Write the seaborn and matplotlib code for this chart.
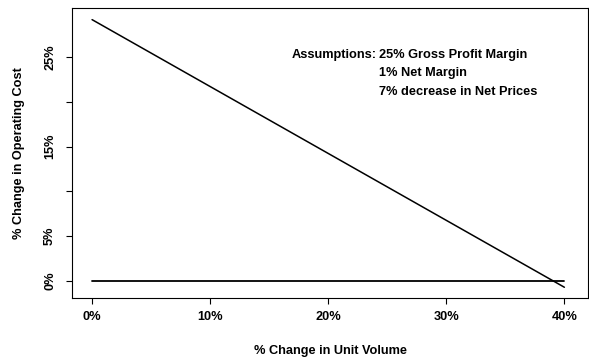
import matplotlib
matplotlib.use("Agg")
import matplotlib.pyplot as plt
import seaborn as sns
import pandas as pd

# Data
unit_volume = [0, 40]            # % change in unit volume
operating_cost = [29.2, -0.7]    # % change in operating cost
baseline_x = [0, 40]
baseline_y = [0, 0]
x_ticks = [0, 10, 20, 30, 40]
x_tick_labels = ["0%", "10%", "20%", "30%", "40%"]
y_ticks = [0, 5, 10, 15, 20, 25]
y_tick_labels = ["0%", "5%", "", "15%", "", "25%"]
notes_head = "Assumptions:"
notes = ["25% Gross Profit Margin", "1% Net Margin", "7% decrease in Net Prices"]

sns.set_style("ticks")
plt.rcParams['font.family'] = ['Liberation Sans', 'DejaVu Sans']
plt.rcParams['font.weight'] = 'bold'
plt.rcParams['text.color'] = 'black'
plt.rcParams['axes.labelcolor'] = 'black'
plt.rcParams['xtick.color'] = 'black'
plt.rcParams['ytick.color'] = 'black'

FS = 9.2
fig = plt.figure(figsize=(5.89, 3.58), dpi=100)
ax = fig.add_axes([72/589, 60/358, 516/589, 290/358])

df_line = pd.DataFrame({"x": unit_volume, "y": operating_cost})
df_base = pd.DataFrame({"x": baseline_x, "y": baseline_y})
sns.lineplot(data=df_line, x="x", y="y", ax=ax, color="black", linewidth=1.1)
sns.lineplot(data=df_base, x="x", y="y", ax=ax, color="black", linewidth=1.3)

ax.set_xlim(-1.7, 42.0)
ax.set_ylim(-1.9, 30.5)
ax.set_xticks(x_ticks)
ax.set_xticklabels(x_tick_labels, fontsize=FS, fontweight='bold')
ax.set_yticks(y_ticks)
ax.set_yticklabels(y_tick_labels, fontsize=FS, fontweight='bold', rotation=90, va='center')
ax.tick_params(axis='both', direction='out', length=4, width=0.8, color='black', labelcolor='black')
ax.tick_params(axis='x', pad=5)
ax.tick_params(axis='y', pad=7.5)
for s in ax.spines.values():
    s.set_linewidth(0.8)
    s.set_color('black')
ax.set_xlabel("% Change in Unit Volume", fontsize=FS, fontweight='bold', labelpad=16, color='black')
ax.set_ylabel("% Change in Operating Cost", fontsize=FS, fontweight='bold', labelpad=14, color='black')

fig.text(292/589, 1 - 55/358, notes_head, fontsize=FS, fontweight='bold', va='center', ha='left', color='black')
fig.text(379/589, 1 - 55/358, notes[0], fontsize=FS, fontweight='bold', va='center', ha='left', color='black')
fig.text(379/589, 1 - 73/358, notes[1], fontsize=FS, fontweight='bold', va='center', ha='left', color='black')
fig.text(379/589, 1 - 92/358, notes[2], fontsize=FS, fontweight='bold', va='center', ha='left', color='black')

fig.savefig("out.png", dpi=100)
